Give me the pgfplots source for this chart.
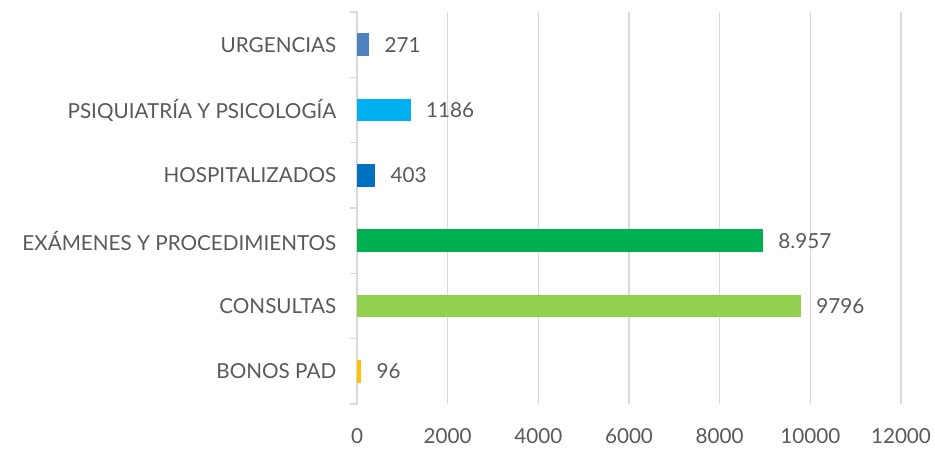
\documentclass[border=0pt]{standalone}
\usepackage{fontspec}
\setmainfont{Lato}
\usepackage{pgfplots}
\pgfplotsset{compat=1.18}
\definecolor{txt}{HTML}{595959}
\definecolor{gridc}{HTML}{D9D9D9}
\definecolor{cA}{HTML}{4F81BD}
\definecolor{cB}{HTML}{00B0F0}
\definecolor{cC}{HTML}{0070C0}
\definecolor{cD}{HTML}{00B050}
\definecolor{cE}{HTML}{92D050}
\definecolor{cF}{HTML}{FFC000}
\begin{document}
\begin{tikzpicture}
\useasboundingbox (0pt,0pt) rectangle (701.25pt,337.5pt);
\begin{axis}[
  at={(267.75pt,34.5pt)}, anchor=south west,
  scale only axis, width=408pt, height=294pt,
  xmin=0, xmax=12000, ymin=-0.5, ymax=5.5,
  xtick={0,2000,...,12000},
  scaled x ticks=false,
  /pgf/number format/1000 sep={},
  /pgf/number format/assume math mode=true,
  ytick={0,...,5},
  yticklabels={BONOS PAD,CONSULTAS,EXÁMENES Y PROCEDIMIENTOS,HOSPITALIZADOS,PSIQUIATRÍA Y PSICOLOGÍA,URGENCIAS},
  extra y ticks={-0.5,0.5,...,5.5},
  extra y tick labels={},
  extra y tick style={major tick length=5pt, tick style={draw=gridc, line width=0.9pt}, grid=none},
  major tick length=0pt,
  axis lines*=left,
  x axis line style={draw=none},
  y axis line style={draw=gridc, line width=1pt},
  xmajorgrids, grid style={draw=gridc, line width=1.1pt},
  tick label style={font=\fontsize{15.5}{18}\selectfont, text=txt},
  yticklabel style={xshift=-12pt},
  xticklabel style={yshift=-15pt},
  xbar, bar width=17pt, bar shift=0pt,
  point meta=explicit symbolic,
  nodes near coords,
  nodes near coords style={font=\fontsize{15.5}{18}\selectfont, text=txt, anchor=west, xshift=8pt},
  clip=false,
]
\addplot[fill=cA, draw=none] coordinates {(271,5) [271]};
\addplot[fill=cB, draw=none] coordinates {(1186,4) [1186]};
\addplot[fill=cC, draw=none] coordinates {(403,3) [403]};
\addplot[fill=cD, draw=none] coordinates {(8957,2) [8.957]};
\addplot[fill=cE, draw=none] coordinates {(9796,1) [9796]};
\addplot[fill=cF, draw=none] coordinates {(96,0) [96]};
\end{axis}
\end{tikzpicture}
\end{document}
